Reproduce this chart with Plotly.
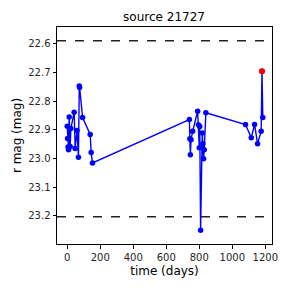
import plotly.graph_objects as go

time_days = [0, 2, 5, 8, 12, 18, 22, 42, 48, 59, 68, 73, 75, 93, 139, 145, 153,
             740, 743, 746, 750, 760, 790, 795, 800, 803, 808, 818, 822, 826, 830, 840,
             1080, 1115, 1135, 1153, 1175, 1180, 1185]
r_mag = [22.887, 22.93, 22.96, 22.969, 22.855, 22.958, 22.895, 22.838, 22.965, 22.902, 22.995,
         22.747, 22.752, 22.857, 22.916, 22.979, 23.015,
         22.864, 22.931, 22.987, 22.934, 22.905, 22.835, 22.882, 22.962, 22.888, 23.250,
         22.911, 22.948, 23.001, 22.969, 22.840,
         22.881, 22.927, 22.881, 22.948, 22.905, 22.695, 22.857]
peak_time = [1180]
peak_mag = [22.695]
upper_limit = 22.589
lower_limit = 23.203

fig = go.Figure()
fig.add_trace(go.Scatter(x=time_days, y=r_mag, mode="lines+markers",
                         line=dict(color="blue", width=1.4),
                         marker=dict(color="blue", size=5.5), showlegend=False))
fig.add_trace(go.Scatter(x=peak_time, y=peak_mag, mode="markers",
                         marker=dict(color="red", size=6), showlegend=False))
for yv in (upper_limit, lower_limit):
    fig.add_hline(y=yv, line=dict(color="#222222", width=1.3, dash="dash"))

font = "DejaVu Sans"
fig.update_layout(
    width=288, height=288,
    margin=dict(l=57, r=16, t=27, b=44),
    paper_bgcolor="white", plot_bgcolor="white",
    font=dict(family=font, color="#262626"),
    title=dict(text="source 21727", x=164 / 288, xanchor="center", y=1 - 17 / 288,
               yanchor="middle", font=dict(size=12, family=font, color="black")),
)
fig.update_xaxes(range=[-62, 1240.6], tickvals=[0, 200, 400, 600, 800, 1000, 1200],
                 automargin=False,
                 showgrid=False, zeroline=False, showline=True, mirror=True,
                 linecolor="black", linewidth=1, ticks="outside", ticklen=3.5,
                 tickcolor="black", tickfont=dict(size=10, family=font, color="#262626"),
                 title=dict(text="time (days)", font=dict(size=12, family=font, color="black"),
                            standoff=5))
fig.update_yaxes(range=[23.298, 22.541],
                 tickvals=[22.6, 22.7, 22.8, 22.9, 23.0, 23.1, 23.2],
                 ticktext=["22.6", "22.7", "22.8", "22.9", "23.0", "23.1", "23.2"],
                 automargin=False,
                 showgrid=False, zeroline=False, showline=True, mirror=True,
                 linecolor="black", linewidth=1, ticks="outside", ticklen=3.5,
                 tickcolor="black", tickfont=dict(size=10, family=font, color="#262626"),
                 title=dict(text="r mag (mag)", font=dict(size=12, family=font, color="black"),
                            standoff=4))
fig.write_html("out.html", config={"displayModeBar": False},
               post_script="document.body.style.margin='0';document.body.style.overflow='hidden';")
